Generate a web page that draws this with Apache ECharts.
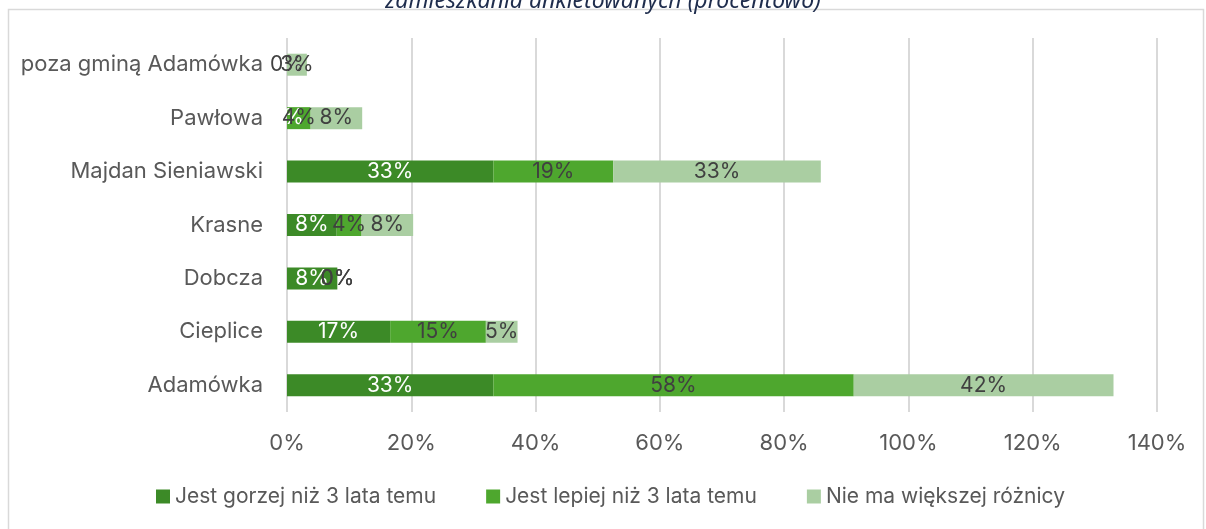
<!DOCTYPE html>
<html>
<head>
<meta charset="utf-8">
<script src="https://cdn.jsdelivr.net/npm/echarts@6/dist/echarts.min.js"></script>
<style>
  html, body { margin: 0; padding: 0; background: #fff; }
  #chart { width: 1206px; height: 529px; }
</style>
</head>
<body>
<div id="chart"></div>
<script>
// dane (procentowo)
var categories = ['Adamówka', 'Cieplice', 'Dobcza', 'Krasne', 'Majdan Sieniawski', 'Pawłowa', 'poza gminą Adamówka'];
var gorzej = [33.2, 16.6, 8.1, 8.0, 33.2, 0, 0];
var lepiej = [58.0, 15.4, 0, 4.0, 19.3, 3.8, 0];
var brakRoznicy = [41.8, 5.1, 0, 8.3, 33.4, 8.3, 3.2];
var seriesNames = ['Jest gorzej niż 3 lata temu', 'Jest lepiej niż 3 lata temu', 'Nie ma większej różnicy'];
var xTicks = [0, 20, 40, 60, 80, 100, 120, 140];

var chart = echarts.init(document.getElementById('chart'));

var font = 'Inter';

function barSeries(name, data, color, labelColor) {
    return {
        name: name,
        type: 'bar',
        stack: 'all',
        barWidth: 22,
        itemStyle: { color: color },
        label: {
            show: true,
            position: 'inside',
            formatter: function (p) { return Math.round(p.value) + '%'; },
            color: labelColor,
            fontFamily: font,
            fontSize: 21
        },
        data: data
    };
}

var option = {
    backgroundColor: '#fff',
    animation: false,
    title: {
        text: 'zamieszkania ankietowanych (procentowo)',
        left: 'center',
        top: -15,
        textStyle: {
            color: '#1F2D4D',
            fontFamily: 'Noto Sans',
            fontStyle: 'italic',
            fontWeight: 'normal',
            fontSize: 23
        }
    },
    graphic: [{
        type: 'rect',
        shape: { x: 8.5, y: 9.5, width: 1195, height: 540 },
        style: { fill: 'none', stroke: '#d9d9d9', lineWidth: 1.5 },
        z: -1
    }],
    legend: {
        bottom: 17,
        left: 151,
        itemWidth: 14,
        itemHeight: 14,
        itemGap: 50,
        icon: 'rect',
        textStyle: { color: '#595959', fontFamily: font, fontSize: 21 },
        data: seriesNames
    },
    grid: {
        left: 287,
        right: 49,
        top: 38,
        bottom: 117
    },
    xAxis: {
        type: 'value',
        min: 0,
        max: xTicks[xTicks.length - 1],
        interval: 20,
        axisLine: { show: false },
        axisTick: { show: false },
        splitLine: { lineStyle: { color: '#d9d9d9', width: 2 } },
        axisLabel: {
            margin: 20,
            color: '#595959',
            fontFamily: font,
            fontSize: 22,
            formatter: '{value}%'
        }
    },
    yAxis: {
        type: 'category',
        data: categories,
        axisLine: { show: false },
        axisTick: { show: false },
        axisLabel: {
            margin: 24,
            color: '#595959',
            fontFamily: font,
            fontSize: 22
        }
    },
    series: [
        barSeries(seriesNames[0], gorzej, '#3C8A27', '#ffffff'),
        barSeries(seriesNames[1], lepiej, '#4EA72E', '#404040'),
        barSeries(seriesNames[2], brakRoznicy, '#AACEA2', '#404040')
    ]
};

chart.setOption(option);
</script>
</body>
</html>
